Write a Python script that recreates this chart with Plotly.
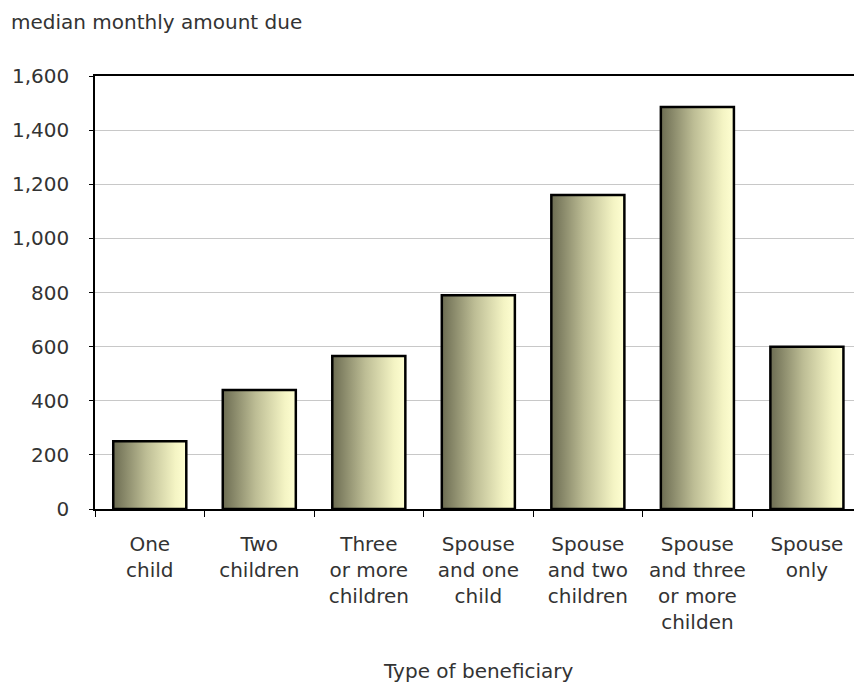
import plotly.graph_objects as go

categories = ["One<br>child", "Two<br>children", "Three<br>or more<br>children",
              "Spouse<br>and one<br>child", "Spouse<br>and two<br>children",
              "Spouse<br>and three<br>or more<br>childen", "Spouse<br>only"]
values = [250, 440, 565, 790, 1160, 1485, 600]
y_ticks = [0, 200, 400, 600, 800, 1000, 1200, 1400, 1600]
y_ticklabels = ["0", "200", "400", "600", "800", "1,000", "1,200", "1,400", "1,600"]

FONT = "DejaVu Sans"
TXT = "#333333"
FS = 20
bar_w = 0.667
grad = [[0, "#6c6c52"], [0.45, "#bdbd95"], [0.85, "#f4f4c4"], [1, "#ffffd2"]]

fig = go.Figure()
for i, v in enumerate(values):
    xs = [i - bar_w / 2, i + bar_w / 2, i + bar_w / 2, i - bar_w / 2, i - bar_w / 2]
    ys = [0, 0, v, v, 0]
    fig.add_trace(go.Scatter(
        x=xs, y=ys, mode="lines", fill="toself",
        fillgradient=dict(type="horizontal", colorscale=grad),
        line=dict(color="#000000", width=2.5),
        hoverinfo="skip", showlegend=False,
    ))

fig.update_layout(
    width=854, height=685,
    margin=dict(l=95, r=0, t=76, b=176),
    paper_bgcolor="white", plot_bgcolor="white",
    font=dict(family=FONT, size=FS, color=TXT),
    showlegend=False,
    xaxis=dict(
        range=[-0.5, 6.43], tickvals=list(range(len(categories))), ticktext=categories,
        ticks="", showgrid=False, zeroline=False,
        showline=True, linecolor="#000000", linewidth=1.5, mirror=True,
        tickfont=dict(family=FONT, size=FS, color=TXT),
        ticklabelstandoff=16,
        minor=dict(tickvals=[k + 0.5 for k in range(-1, len(categories))],
                   ticks="outside", ticklen=6, tickcolor="#000000", tickwidth=1, showgrid=False),
        fixedrange=True,
    ),
    yaxis=dict(
        range=[0, 1600], tickvals=y_ticks, ticktext=y_ticklabels,
        showgrid=True, gridcolor="#c8c8c8", gridwidth=1, zeroline=False,
        showline=True, linecolor="#000000", linewidth=1.5,
        ticks="outside", ticklen=4, tickcolor="#000000",
        tickfont=dict(family=FONT, size=FS, color=TXT),
        ticklabelstandoff=16,
        fixedrange=True,
    ),
    annotations=[
        dict(text="median monthly amount due", xref="paper", yref="paper",
             x=-86 / 759, y=1 + 54 / 433, xanchor="left", yanchor="middle",
             showarrow=False, font=dict(family=FONT, size=FS, color=TXT)),
        dict(text="Type of beneficiary", xref="x", yref="paper",
             x=3, y=-162 / 433, xanchor="center", yanchor="middle",
             showarrow=False, font=dict(family=FONT, size=FS, color=TXT)),
    ],
)

fig.write_html("out.html")
